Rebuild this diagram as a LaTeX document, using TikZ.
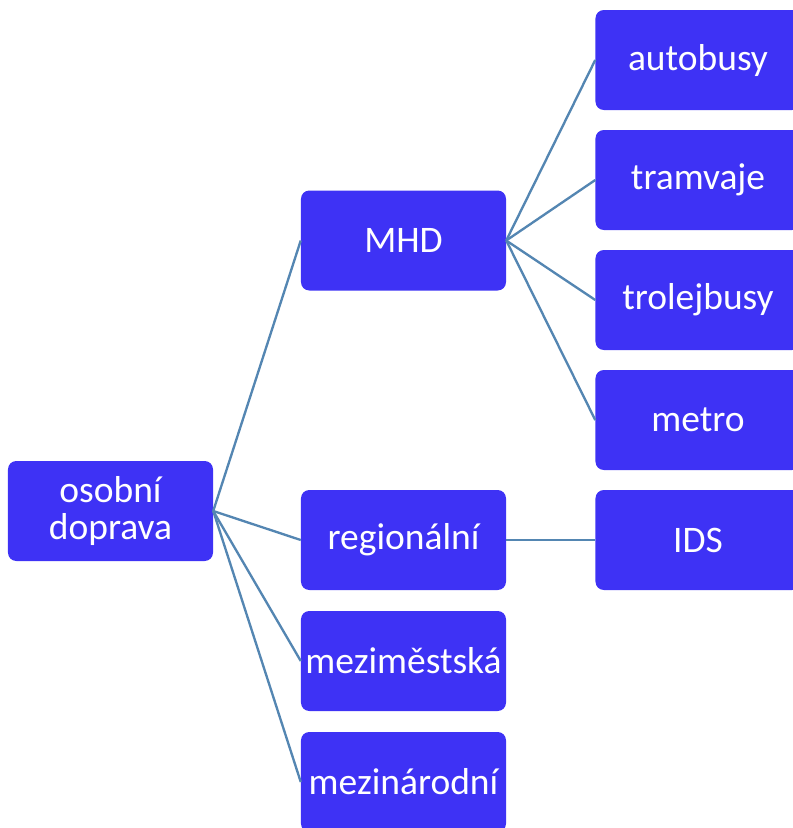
\documentclass[tikz,border=0pt]{standalone}
\usepackage{fontspec}
\setmainfont{Carlito}
\usepackage{xcolor}
\definecolor{boxblue}{RGB}{62,50,245}
\definecolor{linkblue}{RGB}{84,134,178}

\begin{document}
\begin{tikzpicture}[x=0.03cm, y=-0.03cm,
  box/.style={fill=boxblue, rounded corners=0.25cm, minimum width=6.15cm, minimum height=3cm,
    text=white, align=center, font=\fontsize{32}{31.5}\selectfont, inner sep=0pt},
  link/.style={draw=linkblue, line width=2pt}]
\def\W{793}
\def\H{828}
\useasboundingbox (0,0) rectangle (\W,\H);

\node[box] (osobni) at (110.5,511) {osobní\\doprava};

\node[box] (mhd) at (403.5,240.5) {MHD};
\node[box] (regionalni) at (403.5,540) {regionální};
\node[box] (mezimestska) at (403.5,661) {meziměstská};
\node[box] (mezinarodni) at (403.5,782) {mezinárodní};

\node[box] (autobusy) at (698,60) {autobusy};
\node[box] (tramvaje) at (698,180) {tramvaje};
\node[box] (trolejbusy) at (698,300) {trolejbusy};
\node[box] (metro) at (698,420) {metro};
\node[box] (ids) at (698,540) {IDS};

\foreach \n in {mhd, regionalni, mezimestska, mezinarodni}
  \draw[link] (osobni.east) -- (\n.west);
\foreach \n in {autobusy, tramvaje, trolejbusy, metro}
  \draw[link] (mhd.east) -- (\n.west);
\draw[link] (regionalni.east) -- (ids.west);

\end{tikzpicture}
\end{document}
